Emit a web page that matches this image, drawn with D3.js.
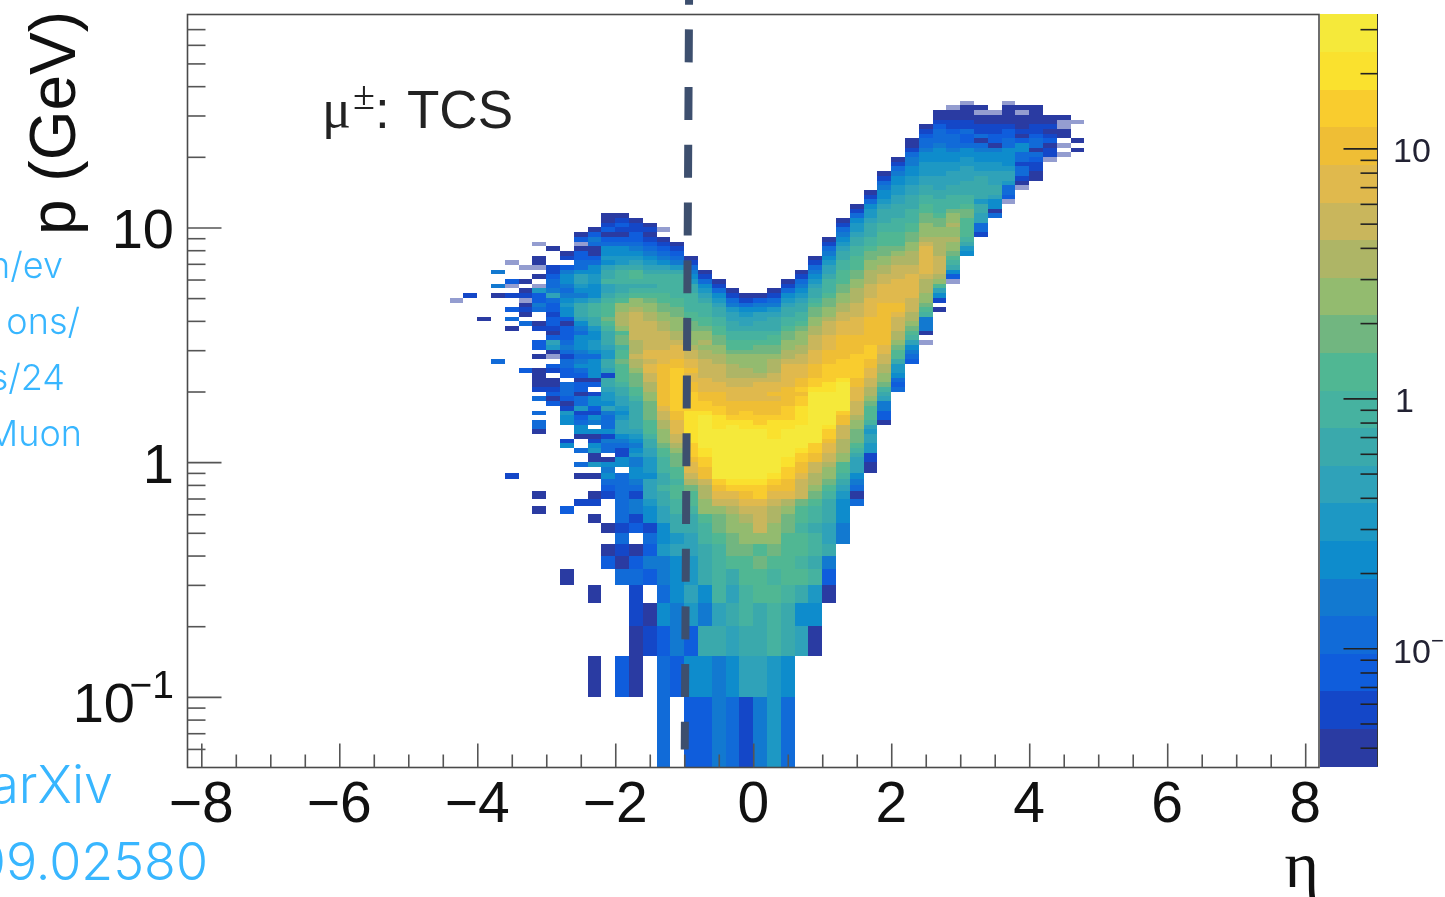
<!DOCTYPE html>
<html>
<head>
<meta charset="utf-8">
<script src="https://cdn.jsdelivr.net/npm/d3@7"></script>
<style>
  html, body { margin: 0; background: #fff; overflow: hidden; }
  svg { display: block; }
</style>
</head>
<body>
<svg id="vis" width="1445" height="897"></svg>
<script>
// colour steps, lowest first (z = faint level 0 stripe)
const palette = ["#2a3ba2", "#1447c8", "#0f5ddc", "#116bd8", "#1279d0", "#0e8ccc", "#1d98c4", "#2fa2b9", "#3aa9ac", "#46b2a0",
  "#50b793", "#71b680", "#93bb6f", "#aeb566", "#c9b65c", "#e0b94d", "#efbe35", "#f9cc2e", "#fae12e", "#f5e93a"]
const levelChars = "0123456789abcdefghij"

// lower edge of each eta bin
const etaBins = [-4.4, -4.2, -4.0, -3.8, -3.6, -3.4, -3.2, -3.0, -2.8, -2.6, -2.4, -2.2, -2.0, -1.8, -1.6, -1.4, -1.2, -1.0, -0.8, -0.6, -0.4, -0.2,
  0, 0.2, 0.4, 0.6, 0.8, 1.0, 1.2, 1.4, 1.6, 1.8, 2.0, 2.2, 2.4, 2.6, 2.8, 3.0, 3.2, 3.4, 3.6, 3.8, 4.0, 4.2, 4.4, 4.6]

// one string per eta bin, "row:levels" runs going up in p
const cellRuns = [
  "53:z",
  "54:1",
  "49:0",
  "40:3 54:0 56:4 59:4",
  "16:1 47:0 49:3 51:2 54:1 56:z 57:2 61:z",
  "38:2 48:3 50:010 53:z10 57:0 60:z",
  "11:0 13:0 25:033 29:3 32:3 34:10000 41:0 43:22 47:10 51:34226z 58:0 60:z00 65:z",
  "31:202100.12.z0672012212237433211 64:0",
  "5:0 11:2 22:51 27:55610 32:2333. 37:22331 42:34322 47:20255 52:65434 57:5542. 62:10",
  "12:1 16:0 18:3 21:3 24:055 27:32163 32:30220 37:23543 42:45553 47:45788 52:86456 57:77533 62:220z2 67:0",
  "1:0 4:0 10:0 12:10 16:0 18:600 21:65105 26:.4512 31:551.2 36:05555 41:35665 46:56889 51:99755 56:56655 61:32003 66:420",
  "6:20 9:0 13:123 16:545 19:0.334 24:15333 29:47566 34:78817 39:88667 44:8889a 49:baaa9 54:87798 59:87565 64:53202 69:100",
  "1:2 5:30131 10:33333 15:33.55 20:11345 25:77765 30:67788 35:9aaaa 40:baa9b 45:bacdd 50:dcca9 55:88999 60:86655 65:32012 70:10",
  "1:00113 6:20.21 11:44134 16:55446 21:54567 26:88888 31:89aab 36:bbcdd 41:eddde 46:eeeee 51:dcca9 56:89aa8 61:76543 66:22110",
  "2:10.24 7:23155 12:67775 17:66677 22:889aa 27:abbbb 32:ccdde 37:effef 42:feeee 47:eeddc 52:cba98 57:99876 62:54321 67:010",
  "0:33253 5:44655 10:77889 15:88999 20:aabcc 25:cddee 30:fgggg 35:ggggg 40:fffee 45:eeddc 50:cbbaa 55:99998 60:75432 65:10.z",
  "1:24455 6:57688 11:99aa9 16:aabbb 21:cdeef 26:ffggh 31:hhhhh 36:hhhgg 41:fffed 46:dcccb 51:baa99 56:99986 61:43210",
  "0:25267 5:66778 10:89aab 15:deffg 20:hhhii 25:iiiii 30:hhhhg 35:gffgf 40:feedc 45:ccbba 50:a9999 55:88654 60:310",
  "0:25845 5:88899 10:accdd 15:egghh 20:iijjj 25:jjjji 30:hhggf 35:ffeee 40:eddcd 45:ccbaa 50:99987 55:65310",
  "0:44879 5:999ab 10:bcefg 15:hjjjj 20:jjjjj 25:jiiih 30:hgggf 35:feeee 40:ddccb 45:baa99 50:88765 55:310",
  "0:35787 5:8abbc 10:cdefh 15:ijjjj 20:jjjjj 25:jjihg 30:ggfff 35:eeddd 40:ccbaa 45:99887 50:76431 55:0",
  "0:17899 5:aabcc 10:defgh 15:ijjjj 20:jjjjj 25:jiihh 30:ggfff 35:eeddc 40:ccbaa 45:99877 50:65310",
  "0:4788a 5:abace 10:eefhh 15:ijjjj 20:jjjjj 25:jihhg 30:ggfff 35:fedcc 40:ccbba 45:99887 50:75420",
  "0:6699a 5:9abcc 10:ddefg 15:hijjj 20:jjjji 25:iiihg 30:ggfgf 35:feedd 40:dcbba 45:a9888 50:76431 55:0",
  "0:35889 5:aaaab 10:bcdfg 15:ghhii 20:jjjjj 25:jiihh 30:hgggg 35:fffff 40:eddcc 45:bba99 50:88765 55:310",
  "2:758 5:a9aa9 10:aabee 15:efggh 20:hijjj 25:jjiii 30:ihhgh 35:ggfff 40:eeddc 45:ccba9 50:98876 55:54310",
  "2:056 5:98998 10:99abc 15:ddeeg 20:ghhjj 25:jjjjj 30:jjjji 35:hhggg 40:fffee 45:eddcc 50:bba98 55:87654 60:310",
  "4:0 5:24877 10:8889a 15:bccde 20:effgh 25:hijjj 30:jjjji 35:ihhhh 40:gggff 45:feeed 50:ccbba 55:99987 60:76543 65:10",
  "8:44 10:55567 15:89aac 20:cddde 25:eeggh 30:jjjjj 35:jihhh 40:hgggg 45:gfffe 50:eddcc 55:bbaaa 60:99887 65:65431 70:0",
  "12:303 15:45777 20:89abb 25:bccde 30:eefff 35:gghhh 40:hhggg 45:gffff 50:eeedd 55:dccbb 60:aaa99 65:88766 70:5310",
  "17:001 20:16677 25:679aa 30:abcdd 35:eeffg 40:ghhhg 45:ggggg 50:ffffe 55:eeddd 60:ccbba 65:99888 70:76653 75:10",
  "27:022 30:44789 35:bccdd 40:eeffg 45:ggggg 50:gggff 55:ffeed 60:dccbb 65:aaa99 70:88876 75:55431 80:0",
  "34:3 35:23566 40:8aabc 45:ddeee 50:fggff 55:fffee 60:eddcb 65:aaa99 70:98887 75:76655 80:4310",
  "40:23457 45:9abcd 50:deeef 55:ffffe 60:edddc 65:cbbaa 70:99988 75:87766 80:55443 85:100",
  "44:z 46:0444 50:9abcc 55:dddef 60:fffff 65:edccc 70:bbaa9 75:98877 80:66655 85:43321 90:0",
  "51:0 53:157 56:acdee 61:eeddd 66:dccbb 71:a9998 76:87776 81:66555 86:43332 91:100",
  "57:z25 60:89abc 65:cdccd 70:ccb99 75:98877 80:76655 85:43332 90:1100z",
  "63:56 65:89aaa 70:abba9 75:98887 80:77665 85:53223 90:11000 95:z",
  "67:133 70:77886 75:88888 80:76655 85:43031 90:100z0",
  "71:3055 75:78877 80:76655 85:40221 90:100z",
  "74:z 75:23367 80:76555 85:53322 90:10000 95:z",
  "77:z01 80:33133 85:55201 90:000z0",
  "79:0 80:01123 85:03321 90:10000",
  "83:z11 86:02101 91:00",
  "84:z.z.0 89:0zz0",
  "85:0.0 91:z"
]

const etaMajor = [-8, -6, -4, -2, 0, 2, 4, 6, 8]
const etaMinor = [-7.5, -7, -6.5, -5.5, -5, -4.5, -3.5, -3, -2.5, -1.5, -1, -0.5, 0.5, 1, 1.5, 2.5, 3, 3.5, 4.5, 5, 5.5, 6.5, 7, 7.5]
const pMajor = [0.1, 1, 10]
const pMinor = [0.06, 0.07, 0.08, 0.09, 0.2, 0.3, 0.4, 0.5, 0.6, 0.7, 0.8, 0.9, 2, 3, 4, 5, 6, 7, 8, 9, 20, 30, 40, 50, 60, 70]
const zMajor = [0.1, 1, 10]
const zMinor = [0.04, 0.05, 0.06, 0.07, 0.08, 0.09, 0.2, 0.3, 0.4, 0.5, 0.6, 0.7, 0.8, 0.9, 2, 3, 4, 5, 6, 7, 8, 9, 20, 30]
const cutEta = [-0.928, -0.993]
const cutP = [123, 0.0597]
const blueLines = [["n/ev", 63, 278], ["ons/", 80, 334], ["s/24", 65, 390], ["Muon", 82, 446]]
const blueBig = [["arXiv", 113, 803], ["2209.02580", 208, 880]]

const width = 1445
const height = 897
const margin = ({ top: 14.5, right: 1319, bottom: 767.5, left: 187.5 })
const sans = "'Liberation Sans', Arial, sans-serif"
const serif = "'Liberation Serif', serif"

const x = d3.scaleLinear().domain([-8.2, 8.2]).range([margin.left, margin.right])
const y = d3.scaleLog().domain([0.05, 80.8]).range([margin.bottom, margin.top])
const zY = d3.scaleLog().domain([0.0338, 34.5]).range([766, 14])

// bins are 0.05 wide up to 1 GeV, above that the picture only resolves steps of 0.02 decades
const rowLow = r => r <= 19 ? 0.05 + 0.05 * r : Math.pow(10, 0.02 * (r - 19))

const cells = []
cellRuns.forEach((runs, i) => {
  runs.split(" ").forEach(run => {
    const [start, levels] = run.split(":")
    levels.split("").forEach((c, k) => {
      if (c !== ".") cells.push({ eta: etaBins[i], row: +start + k, level: c === "z" ? 0 : levelChars.indexOf(c), faint: c === "z" })
    })
  })
})

const svg = d3.select("#vis")
const chart = svg.append("g").style("filter", "blur(0.7px)")

// heat map
chart.append("g")
  .selectAll("rect")
  .data(cells)
  .join("rect")
  .attr("x", d => x(d.eta))
  .attr("width", d => x(d.eta + 0.2) - x(d.eta))
  .attr("y", d => y(rowLow(d.row + 1)))
  .attr("height", d => y(rowLow(d.row)) - y(rowLow(d.row + 1)))
  .attr("fill", d => palette[d.level])
  .attr("opacity", d => d.faint ? 0.5 : 1)
  .attr("shape-rendering", "crispEdges")

// frame
chart.append("rect")
  .attr("x", margin.left).attr("y", margin.top)
  .attr("width", margin.right - margin.left).attr("height", margin.bottom - margin.top)
  .attr("fill", "none").attr("stroke", "#4a4a4a").attr("stroke-width", 1.6)

const tickAxis = (g, axis) => {
  g.call(axis)
  g.select(".domain").remove()
  g.selectAll(".tick line").attr("stroke", "#555").attr("stroke-width", 1.6)
  g.selectAll(".tick text").remove()
}

chart.append("g").attr("transform", `translate(0,${margin.bottom})`)
  .call(tickAxis, d3.axisBottom(x).tickValues(etaMajor).tickSize(-24))
chart.append("g").attr("transform", `translate(0,${margin.bottom})`)
  .call(tickAxis, d3.axisBottom(x).tickValues(etaMinor).tickSize(-13))
chart.append("g").attr("transform", `translate(${margin.left},0)`)
  .call(tickAxis, d3.axisLeft(y).tickValues(pMajor).tickSize(-34))
chart.append("g").attr("transform", `translate(${margin.left},0)`)
  .call(tickAxis, d3.axisLeft(y).tickValues(pMinor).tickSize(-18))

// x labels
chart.append("g")
  .selectAll("text")
  .data(etaMajor)
  .join("text")
  .attr("x", d => x(d))
  .attr("y", 822)
  .attr("text-anchor", "middle")
  .attr("font-family", sans)
  .attr("font-size", 57)
  .attr("fill", "#111")
  .text(d => d < 0 ? "\u2212" + (-d) : d)

// y labels
chart.append("text").attr("x", 174).attr("y", y(10) + 21).attr("text-anchor", "end")
  .attr("font-family", sans).attr("font-size", 56).attr("fill", "#111").text("10")
chart.append("text").attr("x", 174).attr("y", y(1) + 21).attr("text-anchor", "end")
  .attr("font-family", sans).attr("font-size", 56).attr("fill", "#111").text("1")
chart.append("text").attr("x", 135).attr("y", y(0.1) + 25).attr("text-anchor", "end")
  .attr("font-family", sans).attr("font-size", 56).attr("fill", "#111").text("10")
chart.append("text").attr("x", 174).attr("y", 698).attr("text-anchor", "end")
  .attr("font-family", sans).attr("font-size", 39).attr("fill", "#111").text("\u22121")

// axis titles
chart.append("text")
  .attr("transform", "translate(75,11) rotate(-90)")
  .attr("text-anchor", "end")
  .attr("font-family", sans)
  .attr("font-size", 64)
  .attr("fill", "#111")
  .text("p (GeV)")
chart.append("text")
  .attr("x", 1319).attr("y", 887)
  .attr("text-anchor", "end")
  .attr("font-family", serif)
  .attr("font-size", 66)
  .attr("fill", "#111")
  .text("\u03b7")

// annotation
chart.append("text").attr("x", 322).attr("y", 127).attr("font-family", serif).attr("font-size", 54).attr("fill", "#222").text("\u03bc")
chart.append("text").attr("x", 353).attr("y", 109).attr("font-family", serif).attr("font-size", 40).attr("fill", "#222").text("\u00b1")
chart.append("text").attr("x", 375).attr("y", 128).attr("font-family", sans).attr("font-size", 53).attr("fill", "#222").text(":")
chart.append("text").attr("x", 407).attr("y", 128).attr("font-family", sans).attr("font-size", 53).attr("fill", "#222").text("TCS")

// colour bar
const bandStep = Math.log10(zY.domain()[1] / zY.domain()[0]) / palette.length
const bandEdge = i => zY.domain()[0] * Math.pow(10, bandStep * i)
chart.append("g")
  .selectAll("rect")
  .data(palette)
  .join("rect")
  .attr("x", 1320)
  .attr("width", 57.5)
  .attr("y", (d, i) => zY(bandEdge(i + 1)))
  .attr("height", (d, i) => zY(bandEdge(i)) - zY(bandEdge(i + 1)) + 0.5)
  .attr("fill", d => d)
  .attr("shape-rendering", "crispEdges")
chart.append("line").attr("x1", 1377.5).attr("x2", 1377.5).attr("y1", 14).attr("y2", 766).attr("stroke", "#333").attr("stroke-width", 1)
chart.append("g").attr("transform", "translate(1377.5,0)")
  .call(tickAxis, d3.axisRight(zY).tickValues(zMajor).tickSize(-34))
  .selectAll("line").attr("stroke", "#222")
chart.append("g").attr("transform", "translate(1377.5,0)")
  .call(tickAxis, d3.axisRight(zY).tickValues(zMinor).tickSize(-17))
  .selectAll("line").attr("stroke", "#222")

chart.append("text").attr("x", 1393).attr("y", zY(10) + 14).attr("font-family", sans).attr("font-size", 34).attr("fill", "#223").text("10")
chart.append("text").attr("x", 1395).attr("y", zY(1) + 14).attr("font-family", sans).attr("font-size", 34).attr("fill", "#223").text("1")
chart.append("text").attr("x", 1393).attr("y", zY(0.1) + 15).attr("font-family", sans).attr("font-size", 34).attr("fill", "#223").text("10")
chart.append("text").attr("x", 1431).attr("y", zY(0.1) + 0).attr("font-family", sans).attr("font-size", 22).attr("fill", "#223").text("\u22121")

// dashed cut line
const cutLine = d3.line().x(d => x(d[0])).y(d => y(d[1]))
svg.append("path")
  .attr("d", cutLine(d3.zip(cutEta, cutP)))
  .attr("fill", "none")
  .attr("stroke", "#3d4f6e")
  .attr("stroke-width", 8)
  .attr("stroke-dasharray", "33 24.7")
  .style("filter", "blur(0.6px)")

// blue text behind the figure
svg.append("g")
  .selectAll("text")
  .data(blueLines)
  .join("text")
  .attr("x", d => d[1])
  .attr("y", d => d[2])
  .attr("text-anchor", "end")
  .attr("font-family", "Inter, Lato, sans-serif")
  .attr("font-weight", 300)
  .attr("font-size", 36)
  .attr("fill", "#38b6ff")
  .text(d => d[0])
svg.append("g")
  .selectAll("text")
  .data(blueBig)
  .join("text")
  .attr("x", d => d[1])
  .attr("y", d => d[2])
  .attr("text-anchor", "end")
  .attr("font-family", "Inter, Lato, sans-serif")
  .attr("font-weight", 300)
  .attr("font-size", 52)
  .attr("fill", "#38b6ff")
  .text(d => d[0])
</script>
</body>
</html>
